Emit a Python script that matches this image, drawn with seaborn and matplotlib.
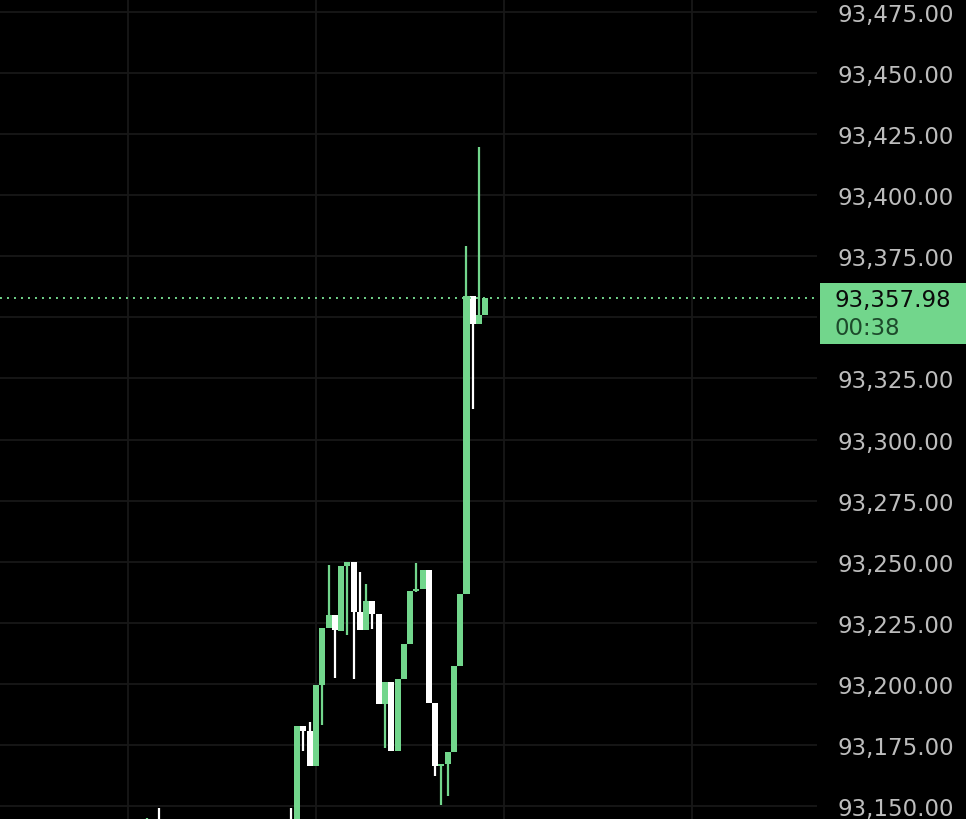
import matplotlib
matplotlib.use("Agg")
import numpy as np
import pandas as pd
import seaborn as sns
from matplotlib import pyplot as plt
from matplotlib.patches import Rectangle

# candle data, one row per minute slot (slots below 0 sit mostly under the visible range)
slot = list(range(-24, 32))
open_ = [93110, 93112, 93130, 93136, 93122, 93116, 93124, 93128, 93119, 93115,
         93122, 93126, 93118, 93113, 93120, 93127, 93121, 93117, 93123, 93129,
         93124, 93119, 93126, 93132, 93138,
         93125, 93182.5, 93180.4, 93166.1, 93199.6, 93222.6, 93227.9, 93221.4, 93248.0,
         93250.0, 93229.5, 93221.8, 93234.0, 93228.7, 93191.5, 93200.5, 93172.2, 93201.7,
         93216.4, 93238.1, 93238.9, 93246.7, 93192.0, 93166.1, 93166.9, 93171.8, 93207.0,
         93236.9, 93358.9, 93347.4, 93351.1]
high = [93120, 93144.8, 93140, 93148.9, 93130, 93132, 93136, 93133, 93125, 93130,
        93134, 93131, 93122, 93128, 93135, 93131, 93126, 93130, 93137, 93134,
        93128, 93133, 93139, 93142, 93148.9,
        93182.5, 93182.5, 93184.1, 93199.6, 93222.6, 93248.4, 93227.9, 93248.0, 93250.0,
        93250.0, 93245.9, 93240.6, 93234.0, 93228.7, 93200.5, 93200.5, 93201.7, 93216.4,
        93238.1, 93249.2, 93246.7, 93246.7, 93192.0, 93166.9, 93171.8, 93207.0, 93236.9,
        93379.3, 93358.9, 93419.9, 93357.98]
low = [93100, 93108, 93124, 93118, 93108, 93110, 93118, 93112, 93106, 93110,
       93117, 93110, 93104, 93108, 93114, 93114, 93110, 93112, 93118, 93116,
       93112, 93114, 93120, 93126, 93120,
       93122, 93172.2, 93166.1, 93166.1, 93182.9, 93222.6, 93202.1, 93221.4, 93219.7,
       93201.7, 93221.8, 93221.8, 93222.2, 93191.5, 93173.5, 93172.2, 93172.2, 93201.7,
       93216.4, 93237.6, 93238.9, 93192.0, 93162.0, 93150.1, 93153.8, 93171.8, 93207.0,
       93236.9, 93312.6, 93347.4, 93351.1]
close = [93112, 93130, 93136, 93122, 93116, 93124, 93128, 93119, 93115, 93122,
         93126, 93118, 93113, 93120, 93127, 93121, 93117, 93123, 93129, 93124,
         93119, 93126, 93132, 93138, 93125,
         93182.5, 93180.4, 93166.1, 93199.6, 93222.6, 93227.9, 93221.8, 93248.0, 93250.0,
         93229.5, 93221.8, 93234.0, 93228.7, 93191.5, 93200.5, 93172.2, 93201.7, 93216.4,
         93238.1, 93238.9, 93246.7, 93192.0, 93166.1, 93166.9, 93171.8, 93207.0, 93236.9,
         93358.9, 93347.4, 93351.1, 93357.98]
price_ticks = [93150, 93175, 93200, 93225, 93250, 93275, 93300, 93325,
               93350, 93375, 93400, 93425, 93450, 93475]
time_grid = [-26, 4, 34, 64]
last_price = 93357.98
countdown = "00:38"

GREEN = "#72d68c"
WHITE = "#ffffff"
BG = "#000000"

df = pd.DataFrame({"slot": slot, "open": open_, "high": high, "low": low, "close": close})
df["up"] = df["close"] >= df["open"]
df["color"] = np.where(df["up"], GREEN, WHITE)

sns.set_style("dark", {"axes.facecolor": BG, "figure.facecolor": BG})
plt.rcParams["font.family"] = ["DejaVu Sans"]

fig = plt.figure(figsize=(9.66, 8.2), dpi=100)
ax = fig.add_axes([0, 0, 817 / 966, 1])
ax.set_facecolor(BG)

# wicks then bodies
ax.vlines(df["slot"], df["low"], df["high"], colors=df["color"], linewidth=1.6, zorder=3)
body_h = (df["close"] - df["open"]).abs().clip(lower=0.4)
body_b = df[["open", "close"]].min(axis=1)
ax.bar(df["slot"], body_h, bottom=body_b, width=0.96, color=df["color"],
       linewidth=0, zorder=4)

# last price line
ax.axhline(last_price, color=GREEN, linewidth=1.4, linestyle=(0, (1, 2.6)), zorder=5)

ax.set_xlim(-46.4, 83.9)
ax.set_ylim(93144.5, 93480.5)
ax.set_xticks(time_grid)
ax.set_xticklabels([])
ax.set_yticks(price_ticks)
# the label hidden behind the price box is left blank
ax.set_yticklabels(["" if abs(p - last_price) < 15 else f"{p:,.2f}" for p in price_ticks])
ax.yaxis.tick_right()
ax.tick_params(axis="y", length=0, pad=15, labelsize=16.5, labelcolor="#bdbdbd")
ax.tick_params(axis="x", length=0)
ax.grid(True, color="#181818", linewidth=1.3)
ax.set_axisbelow(True)
for s in ax.spines.values():
    s.set_visible(False)

# price label box on the axis
trans = ax.get_yaxis_transform()
ax.add_patch(Rectangle((1.004, last_price - 18.9), 0.2, 25.0, transform=trans,
                       facecolor=GREEN, edgecolor="none", clip_on=False, zorder=10))
ax.text(1.021, last_price - 0.8, f"{last_price:,.2f}", transform=trans, va="center",
        ha="left", fontsize=16.5, color="#0a0a0a", clip_on=False, zorder=11)
ax.text(1.021, last_price - 12.2, countdown, transform=trans, va="center",
        ha="left", fontsize=16.5, color="#1d4a2b", clip_on=False, zorder=11)

fig.savefig("out.png", dpi=100, facecolor=BG)
